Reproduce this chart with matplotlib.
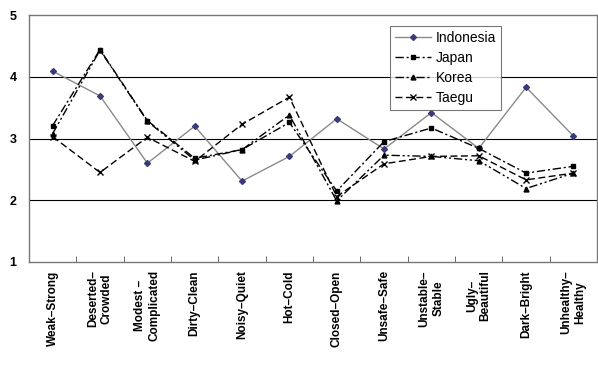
import matplotlib
matplotlib.use("Agg")
import matplotlib.pyplot as plt
import numpy as np

categories = ["Weak\u2013Strong", "Deserted\u2013\nCrowded", "Modest \u2013\nComplicated",
              "Dirty\u2013Clean", "Noisy\u2013Quiet", "Hot\u2013Cold", "Closed\u2013Open",
              "Unsafe\u2013Safe", "Unstable\u2013\nStable", "Ugly\u2013\nBeautiful",
              "Dark\u2013Bright", "Unhealthy\u2013\nHealthy"]
indonesia = [4.09, 3.69, 2.60, 3.20, 2.31, 2.71, 3.32, 2.83, 3.42, 2.84, 3.83, 3.04]
japan     = [3.21, 4.44, 3.29, 2.68, 2.82, 3.26, 2.15, 2.95, 3.17, 2.84, 2.44, 2.55]
korea     = [3.08, 4.43, 3.28, 2.65, 2.82, 3.38, 1.99, 2.73, 2.71, 2.64, 2.19, 2.44]
taegu     = [3.03, 2.45, 3.02, 2.63, 3.23, 3.67, 2.06, 2.59, 2.71, 2.72, 2.33, 2.44]
yticks = [1, 2, 3, 4, 5]

plt.rcParams['font.family'] = ['Liberation Sans', 'DejaVu Sans']

fig = plt.figure(figsize=(5.98, 3.85), dpi=100)
ax = fig.add_axes([0.0485, 0.3195, 0.95, 0.6415])

x = np.arange(len(categories))
ax.plot(x, indonesia, color='#8a8a8a', lw=1.0, marker='D', ms=3,
        mfc='#3a3a7a', mec='#3a3a7a', label='Indonesia')
ax.plot(x, japan, color='black', lw=1.0, ls=(0, (6, 2, 1.5, 2)), marker='s', ms=3,
        mfc='black', mec='black', label='Japan')
ax.plot(x, korea, color='black', lw=1.0, ls=(0, (6, 2, 1.5, 2, 1.5, 2)), marker='^', ms=3.5,
        mfc='black', mec='black', label='Korea')
ax.plot(x, taegu, color='black', lw=1.0, ls=(0, (5, 2.5)), marker='x', ms=4.5,
        mew=1.0, label='Taegu')

ax.set_xlim(-0.5, len(categories) - 0.5)
ax.set_ylim(1, 5)
ax.set_yticks(yticks)
ax.set_yticklabels([str(v) for v in yticks], fontsize=9, fontweight='bold')
ax.tick_params(axis='y', length=0, pad=9)
for v in yticks[1:-1]:
    ax.axhline(v, color='black', lw=0.8, zorder=0)

ax.set_xticks(x)
ax.set_xticklabels(categories, rotation=90, fontsize=8.5, fontweight='bold',
                   ha='center', va='top', multialignment='center')
ax.tick_params(axis='x', length=0, pad=6)
ax.set_xticks(np.arange(len(categories) - 1) + 0.5, minor=True)
ax.tick_params(axis='x', which='minor', length=4, direction='in', color='#555555')

for s in ax.spines.values():
    s.set_color('#777777')
    s.set_linewidth(1.0)

leg = ax.legend(loc='upper left', bbox_to_anchor=(0.624, 0.985), fontsize=10,
                frameon=True, fancybox=False, edgecolor='#555555',
                handlelength=2.6, borderpad=0.35, labelspacing=0.45, handletextpad=0.3)
leg.get_frame().set_linewidth(0.8)

fig.savefig("out.png", dpi=100)
